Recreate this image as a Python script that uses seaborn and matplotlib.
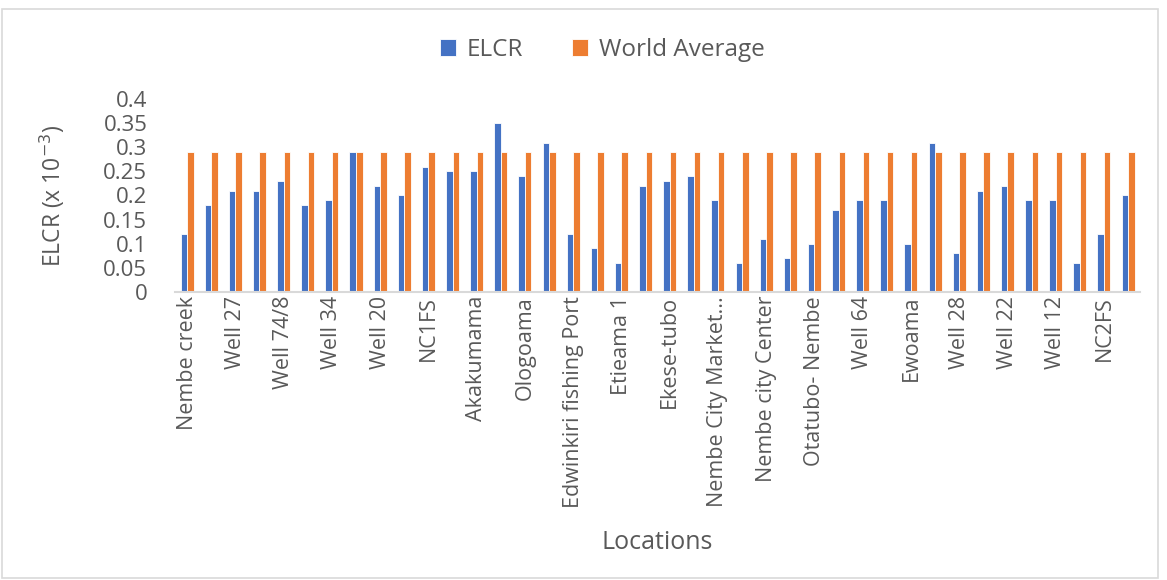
import numpy as np
import pandas as pd
import matplotlib
matplotlib.use("Agg")
import matplotlib.pyplot as plt
import seaborn as sns
from matplotlib.patches import Rectangle

# Sampling locations shown on the axis (every second site is labelled)
shown_labels = [
    "Nembe creek", "Well 27", "Well 74/8", "Well 34", "Well 20", "NC1FS",
    "Akakumama", "Ologoama", "Edwinkiri fishing Port", "Etieama 1",
    "Ekese-tubo", "Nembe City Market...", "Nembe city Center",
    "Otatubo- Nembe", "Well 64", "Ewoama", "Well 28", "Well 22",
    "Well 12", "NC2FS",
]

# Excess lifetime cancer risk (x 10^-3) per site, in site order
elcr = [
    0.12, 0.18, 0.21, 0.21, 0.23, 0.18, 0.19, 0.29, 0.22, 0.20,
    0.26, 0.25, 0.25, 0.35, 0.24, 0.31, 0.12, 0.09, 0.06, 0.22,
    0.23, 0.24, 0.19, 0.06, 0.11, 0.07, 0.10, 0.17, 0.19, 0.19,
    0.10, 0.31, 0.08, 0.21, 0.22, 0.19, 0.19, 0.06, 0.12, 0.20,
]
world_average = [0.29] * len(elcr)

series_names = ["ELCR", "World Average"]
series_colors = ["#4472C4", "#ED7D31"]

site_ids = list(range(len(elcr)))
df = pd.DataFrame({
    "site": site_ids * 2,
    "value": elcr + world_average,
    "series": [series_names[0]] * len(elcr) + [series_names[1]] * len(world_average),
})

sns.set_theme(style="white")
plt.rcParams["font.family"] = ["Open Sans", "DejaVu Sans"]
text_color = "#595959"

fig = plt.figure(figsize=(11.67, 5.8), dpi=100)
ax = fig.add_axes([0.150, 0.497, 0.827, 0.332])

sns.barplot(
    data=df, x="site", y="value", hue="series",
    hue_order=series_names, palette=series_colors,
    width=0.54, saturation=1, ax=ax, edgecolor="white", linewidth=0.6,
    legend=True,
)

ax.set_ylim(0, 0.4)
yticks = np.arange(0, 0.401, 0.05)
ax.set_yticks(yticks)
ax.set_yticklabels([f"{t:.2f}".rstrip("0").rstrip(".") for t in yticks],
                   fontsize=16, color=text_color)
ax.set_xlim(-0.5, len(elcr) - 0.5)
ax.set_xticks(site_ids[::2])
ax.set_xticklabels(shown_labels, rotation=90, fontsize=15.5, color=text_color)
ax.tick_params(axis="y", length=0, pad=20)
ax.tick_params(axis="x", length=0, pad=3)

for side in ["top", "right", "left"]:
    ax.spines[side].set_visible(False)
ax.spines["bottom"].set_color("#D9D9D9")
ax.spines["bottom"].set_linewidth(1.5)

ax.set_ylabel("ELCR (x 10$^{-3}$)", fontsize=16.5, color=text_color)
ax.set_xlabel("Locations", fontsize=18, color=text_color)
ax.xaxis.set_label_coords(0.5, -1.235)
ax.yaxis.set_label_coords(-0.112, 0.5)

ax.legend(
    loc="upper center", ncol=2, frameon=False, fontsize=17.5,
    handlelength=0.65, handleheight=0.65, columnspacing=2.0, handletextpad=0.45,
    labelcolor=text_color,
)
leg = ax.get_legend()
leg.set_bbox_to_anchor((0.516, 0.972), transform=fig.transFigure)

fig.patches.append(Rectangle((0.002, 0.003), 0.99, 0.982, transform=fig.transFigure,
                             fill=False, edgecolor="#D9D9D9", linewidth=1.2))

fig.savefig("out.png", dpi=100, facecolor="white")
